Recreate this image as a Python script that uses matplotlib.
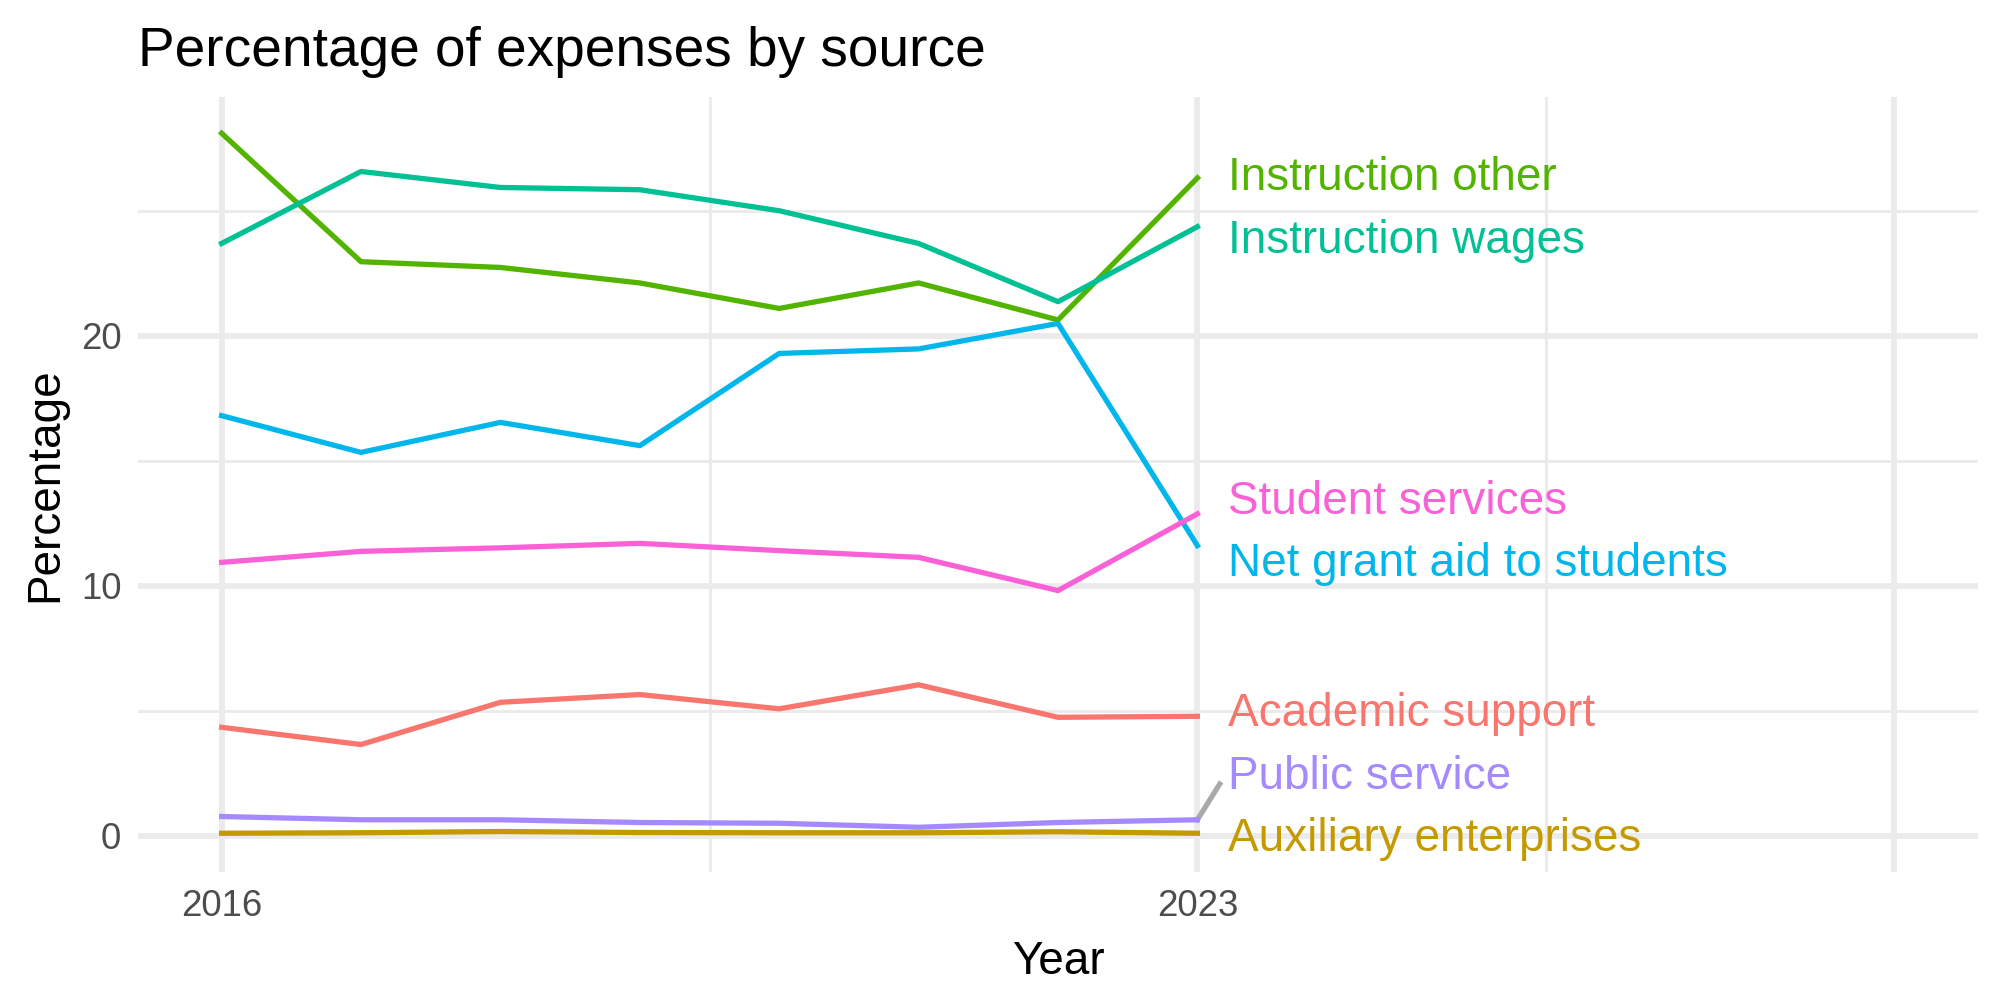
import numpy as np
import matplotlib
matplotlib.use('Agg')
import matplotlib.pyplot as plt

plt.rcParams['font.family'] = ['Liberation Sans', 'DejaVu Sans']

# data
years = [2016, 2017, 2018, 2019, 2020, 2021, 2022, 2023]
academic_support = [4.33, 3.64, 5.33, 5.64, 5.07, 6.03, 4.73, 4.77]
auxiliary_enterprises = [0.09, 0.11, 0.16, 0.12, 0.11, 0.11, 0.15, 0.09]
instruction_other = [28.1, 22.96, 22.73, 22.11, 21.09, 22.11, 20.63, 26.31]
instruction_wages = [23.69, 26.57, 25.93, 25.84, 25.0, 23.69, 21.36, 24.36]
net_grant_aid = [16.8, 15.33, 16.53, 15.6, 19.29, 19.47, 20.49, 11.6]
public_service = [0.76, 0.63, 0.63, 0.52, 0.49, 0.33, 0.52, 0.63]
student_services = [10.93, 11.37, 11.51, 11.69, 11.4, 11.13, 9.8, 12.87]

names = ['Academic support', 'Auxiliary enterprises', 'Instruction other',
         'Instruction wages', 'Net grant aid to students', 'Public service',
         'Student services']
series = [academic_support, auxiliary_enterprises, instruction_other,
          instruction_wages, net_grant_aid, public_service, student_services]
colors = ['#F8766D', '#C49A00', '#53B400', '#00C094', '#00B6EB', '#A58AFF', '#FB61D7']

# repelled label positions (layout)
label_x = 2023.22
label_y = [4.85, -0.15, 26.3, 23.8, 10.85, 2.35, 13.35]

fig = plt.figure(figsize=(10, 5), dpi=200)
ax = fig.add_axes([0.069, 0.128, 0.92, 0.775])

grid_major = '#EBEBEB'
for y in [0, 10, 20]:
    ax.axhline(y, color=grid_major, lw=2.1, zorder=0)
for y in [5, 15, 25]:
    ax.axhline(y, color=grid_major, lw=1.05, zorder=0)
for x in [2016, 2023, 2028]:
    ax.axvline(x, color=grid_major, lw=2.1, zorder=0)
for x in [2019.5, 2025.5]:
    ax.axvline(x, color=grid_major, lw=1.05, zorder=0)

for name, vals, c, ly in zip(names, series, colors, label_y):
    ax.plot(years, vals, color=c, lw=1.9, zorder=2)
    ax.text(label_x, ly, name, color=c, fontsize=16.5, ha='left', va='center')

# segment for the nudged label
ax.plot([2023, 2023.16], [public_service[-1], 2.06], color='#AAAAAA', lw=1.9, zorder=1)

ax.set_xlim(2015.4, 2028.6)
ax.set_ylim(-1.46, 29.55)
ax.set_xticks([2016, 2023])
ax.set_yticks([0, 10, 20])
ax.tick_params(length=0, labelsize=13.2, labelcolor='#4D4D4D', pad=6)
for s in ax.spines.values():
    s.set_visible(False)

ax.set_xlabel('Year', fontsize=16.5, labelpad=6)
ax.set_ylabel('Percentage', fontsize=16.5, labelpad=5)
ax.set_title('Percentage of expenses by source', fontsize=19.8, loc='left', pad=11)

plt.savefig('out.png', dpi=200)
